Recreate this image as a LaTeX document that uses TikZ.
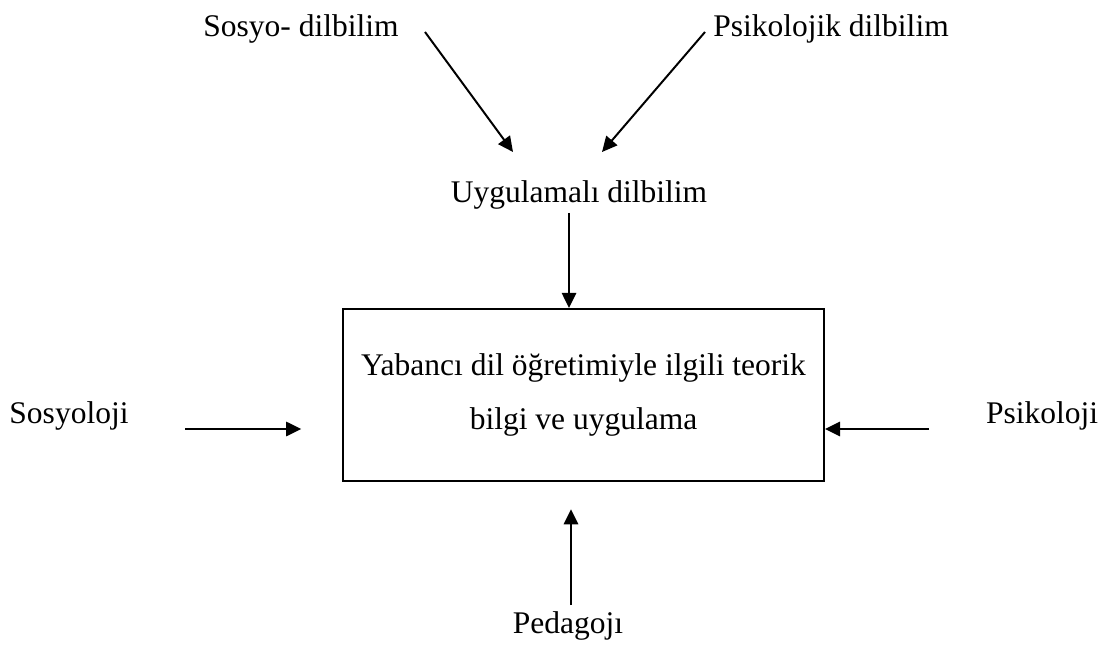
\documentclass[tikz,border=0pt]{standalone}
\usepackage{fontspec}
\setmainfont{Liberation Serif}
\usetikzlibrary{arrows.meta}

\begin{document}
\begin{tikzpicture}[x=0.0125cm,y=-0.0125cm,
		every node/.style={font=\fontsize{11.2}{19.5}\selectfont, inner sep=0pt},
		baslik/.style={anchor=base},
		kutu/.style={draw, line width=0.7pt, minimum width=6.01cm,
			minimum height=2.15cm, align=center},
		ok/.style={line width=0.7pt, -{Triangle[length=0.19cm,width=0.18cm]}}]
		
		\useasboundingbox (0,0) rectangle (1109,653);
		
		% fields around the centre
		\node[baslik] (sosyodil) at (301,37) {Sosyo- dilbilim};
		\node[baslik] (psikodil) at (831,37) {Psikolojik dilbilim};
		\node[baslik] (uygdil) at (579,203) {Uygulamalı dilbilim};
		\node[baslik] (sosyoloji) at (69,424) {Sosyoloji};
		\node[baslik] (psikoloji) at (1042,423) {Psikoloji};
		\node[baslik] (pedagoji) at (568,633) {Pedagojı};
		
		% the central box
		\node[kutu] (bilgi) at (583.5,395)
		{Yabancı dil öğretimiyle ilgili teorik\\bilgi ve uygulama};
		
		% free ends of the arrows
		\coordinate (sd1) at (425,32);
		\coordinate (sd2) at (513,152);
		\coordinate (pd1) at (705,32);
		\coordinate (pd2) at (602,152);
		\coordinate (ud) at (569,213);
		\coordinate (so) at (185,429);
		\coordinate (ps) at (929,429);
		\coordinate (pe) at (571,605);
		
		\draw[ok] (sd1) -- (sd2);
		\draw[ok] (pd1) -- (pd2);
		\draw[ok] (ud) -- (ud |- bilgi.north);
		\draw[ok, shorten >=0.51cm] (so) -- (so -| bilgi.west);
		\draw[ok] (ps) -- (ps -| bilgi.east);
		\draw[ok, shorten >=0.34cm] (pe) -- (pe |- bilgi.south);
		
\end{tikzpicture}
\end{document}
